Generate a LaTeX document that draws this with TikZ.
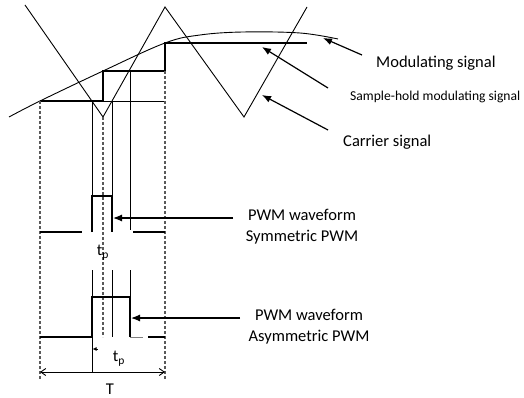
\documentclass[tikz,border=0pt]{standalone}
\usepackage{fontspec}
\setmainfont{Carlito}
\usetikzlibrary{arrows.meta}
\begin{document}
\begin{tikzpicture}[x=1pt,y=-1pt,
  thin line/.style={line width=0.9pt},
  thick line/.style={line width=1.8pt},
  guide/.style={line width=1.3pt, gray!70!black, dash pattern=on 3pt off 2pt},
  pointer/.style={line width=1.2pt, -{Latex[length=9pt,width=7pt]}},
  lbl/.style={font=\fontsize{16.5}{18}\selectfont, inner sep=0pt},
  lblsmall/.style={font=\fontsize{13.6}{16}\selectfont, inner sep=0pt, anchor=west},
]
\useasboundingbox (0,0) rectangle (524,398);

% modulating signal
\draw[thin line] plot[smooth, tension=0.6] coordinates {(9,117) (40,101) (103,71) (165,43) (200,35) (243,32) (300,33) (338,39)};

% carrier
\draw[thin line] (25,5) -- (103,117) -- (165,7) -- (244,117) -- (307,7);

% sample-hold
\draw[thick line] (40,101) -- (103,101) -- (103,71) -- (165,71) -- (165,43) -- (307,43);
\draw[thin line] (103,101) -- (165,101);

% guides
\draw[guide] (40,101) -- (40,380);
\draw[guide] (103,117) -- (103,337);
\draw[guide] (165,71) -- (165,380);

% thin verticals upper
\draw[thin line] (92,101) -- (92,232);
\draw[thin line] (112,101) -- (112,232);
\draw[thin line] (130,71) -- (130,230);

% symmetric pulse
\draw[thick line] (40,232) -- (82,232);
\draw[thick line] (92,232) -- (92,196) -- (112,196) -- (112,232);
\draw[thick line] (133,232) -- (165,232);

% thin verticals lower
\draw[thin line] (92,270) -- (92,372);
\draw[thin line] (112,270) -- (112,337);
\draw[thin line] (130,270) -- (130,337);

% asymmetric pulse
\draw[thick line] (40,337) -- (92,337) -- (92,297) -- (130,297) -- (130,337);
\draw[thin line, gray] (130,337) -- (143,337);
\draw[thick line] (148,337) -- (165,337);

% labels t_p
\node[lbl] (tp1) at (103,253) {t\textsubscript{p}};
\node[lbl] (tp2) at (119,359) {t\textsubscript{p}};
\coordinate (tpa) at (98,349);
\coordinate (tpb) at (92.5,349);
\draw[line width=0.8pt, -{Latex[length=4pt,width=4pt]}] (tpa) -- (tpb);

% T
\coordinate (TL) at (40,372);
\coordinate (TR) at (165,372);
\draw[line width=0.9pt, {Straight Barb[length=5pt,width=7pt]}-{Straight Barb[length=5pt,width=7pt]}] (TL) -- (TR);
\node[lbl] (T) at (110,389) {T};

% PWM labels
\node[lbl, align=center] (sym) at (302,227) {PWM waveform\\[3pt]Symmetric PWM};
\node[lbl, align=center] (asym) at (309,327) {PWM waveform\\[3pt]Asymmetric PWM};
\coordinate (symS) at (233,218);
\coordinate (symE) at (113,218);
\coordinate (asymS) at (240,318);
\coordinate (asymE) at (131,318);
\draw[pointer] (symS) -- (symE);
\draw[pointer] (asymS) -- (asymE);

% right labels
\node[lbl, anchor=west] (mod) at (376,63) {Modulating signal};
\node[lblsmall] (sh) at (350,97) {Sample-hold modulating signal};
\node[lbl, anchor=west] (car) at (343,142) {Carrier signal};
\coordinate (modS) at (362,55);
\coordinate (modE) at (323,38);
\coordinate (shS) at (328,88);
\coordinate (shE) at (262,47);
\coordinate (carS) at (328,130);
\coordinate (carE) at (262,95);
\draw[pointer] (modS) -- (modE);
\draw[pointer] (shS) -- (shE);
\draw[pointer] (carS) -- (carE);
\end{tikzpicture}
\end{document}
